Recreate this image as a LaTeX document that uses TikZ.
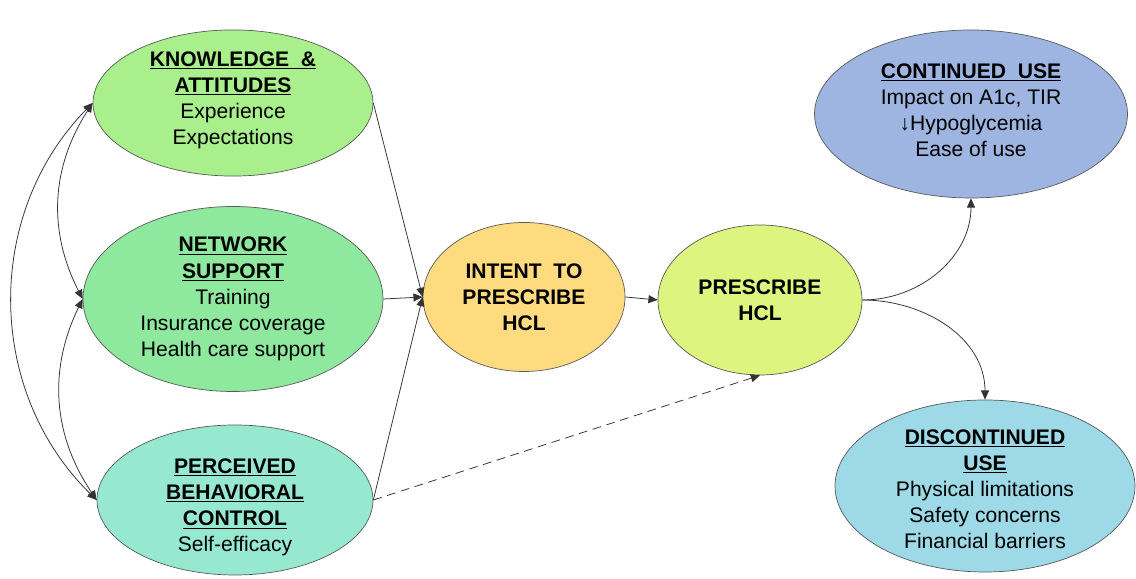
\documentclass[tikz,border=0pt]{standalone}
\usepackage{fontspec}
\setmainfont{Liberation Sans}
\usepackage{xcolor}
\usetikzlibrary{arrows.meta,shapes.geometric}

\definecolor{knowc}{HTML}{A9F08C}
\definecolor{netc}{HTML}{8EE89E}
\definecolor{percc}{HTML}{96E9CF}
\definecolor{intc}{HTML}{FFDB7F}
\definecolor{presc}{HTML}{DDF57F}
\definecolor{contc}{HTML}{9DB5E0}
\definecolor{discc}{HTML}{9DD9E6}

\newcommand{\hd}[1]{\underline{\textbf{#1}}}

\begin{document}
\begin{tikzpicture}[
      oval/.style={ellipse, draw=black!65, line width=0.5pt, inner sep=0pt, align=center,
                   font=\fontsize{15}{18.6}\selectfont},
      arr/.style={-{Triangle[length=2.3mm,width=2mm]}, black!80, line width=0.55pt},
      biarr/.style={arr, {Triangle[length=2.3mm,width=2mm]}-{Triangle[length=2.3mm,width=2mm]}},
      darr/.style={arr, dashed, dash pattern=on 2.2mm off 1.4mm}]
    \useasboundingbox (0,0) rectangle (28.4,14.475);
    \node[oval, fill=knowc, minimum width=7cm, minimum height=3.575cm] (know) at (5.825,11.9)
      {\hd{KNOWLEDGE\ \ \&}\\ \hd{ATTITUDES}\\ Experience\\ Expectations\\[-0.4cm]};
    \node[oval, fill=netc, minimum width=7.5cm, minimum height=4.625cm] (net) at (5.825,7.0)
      {\hd{NETWORK}\\ \hd{SUPPORT}\\ Training\\ Insurance coverage\\ Health care support};
    \node[oval, fill=percc, minimum width=6.9cm, minimum height=3.75cm] (perc) at (5.875,1.975)
      {\hd{PERCEIVED}\\ \hd{BEHAVIORAL}\\ \hd{CONTROL}\\ Self-efficacy\\[-0.92cm]};
    \node[oval, fill=intc, minimum width=5.05cm, minimum height=3.725cm] (int) at (13.1,7.05)
      {\textbf{INTENT\ \ TO}\\ \textbf{PRESCRIBE}\\ \textbf{HCL}};
    \node[oval, fill=presc, minimum width=5.1cm, minimum height=3.75cm] (pre) at (19.0,6.975)
      {\textbf{PRESCRIBE}\\ \textbf{HCL}};
    \node[oval, fill=contc, minimum width=7.825cm, minimum height=4.2cm] (cont) at (24.275,11.625)
      {\hd{CONTINUED\ \ USE}\\ Impact on A1c, TIR\\ ↓Hypoglycemia\\ Ease of use\\[-0.45cm]};
    \node[oval, fill=discc, minimum width=7.5cm, minimum height=4.3cm] (disc) at (24.625,2.325)
      {\hd{DISCONTINUED}\\ \hd{USE}\\ Physical limitations\\ Safety concerns\\ Financial barriers\\[-0.82cm]};
    % correlations on the left
    \draw[biarr] (know.west) to[bend right=30] (net.west);
    \draw[biarr] (net.west) to[bend right=30] (perc.west);
    \draw[biarr] (know.west) to[bend right=45] (perc.west);
    % paths
    \draw[arr] (know.east) -- (int.west);
    \draw[arr] (net.east) -- (int.west);
    \draw[arr] (perc.east) -- (int.west);
    \draw[arr] (int.east) -- (pre.west);
    \draw[darr] (perc.east) -- (pre.south);
    \draw[arr] (pre.east) to[out=0,in=-90] (cont.south);
    \draw[arr] (pre.east) to[out=0,in=90] (disc.north);
  \end{tikzpicture}
\end{document}
